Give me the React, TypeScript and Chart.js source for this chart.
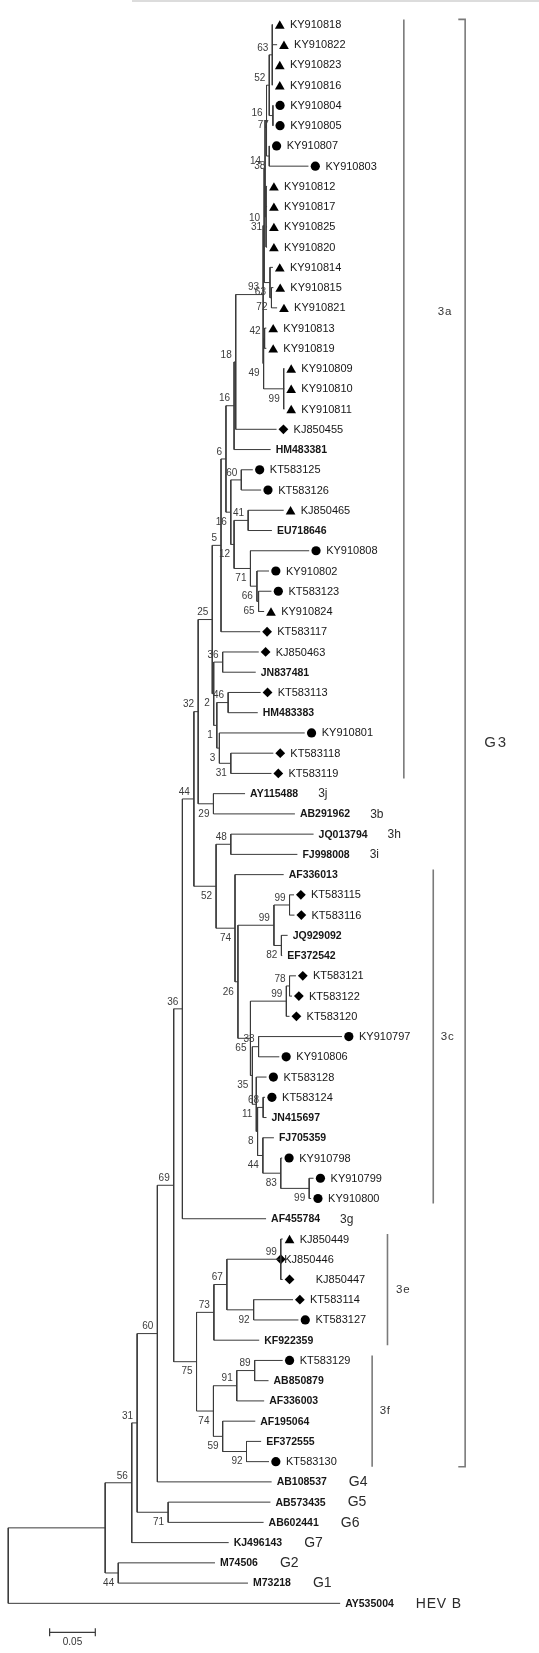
import React, { useEffect, useRef } from 'react';
import { Chart, registerables } from 'chart.js';

Chart.register(...registerables);

// ---------- data ----------
const leafNames = [
  'KY910818', 'KY910822', 'KY910823', 'KY910816', 'KY910804', 'KY910805', 'KY910807', 'KY910803',
  'KY910812', 'KY910817', 'KY910825', 'KY910820', 'KY910814', 'KY910815', 'KY910821', 'KY910813',
  'KY910819', 'KY910809', 'KY910810', 'KY910811', 'KJ850455', 'HM483381', 'KT583125', 'KT583126',
  'KJ850465', 'EU718646', 'KY910808', 'KY910802', 'KT583123', 'KY910824', 'KT583117', 'KJ850463',
  'JN837481', 'KT583113', 'HM483383', 'KY910801', 'KT583118', 'KT583119', 'AY115488', 'AB291962',
  'JQ013794', 'FJ998008', 'AF336013', 'KT583115', 'KT583116', 'JQ929092', 'EF372542', 'KT583121',
  'KT583122', 'KT583120', 'KY910797', 'KY910806', 'KT583128', 'KT583124', 'JN415697', 'FJ705359',
  'KY910798', 'KY910799', 'KY910800', 'AF455784', 'KJ850449', 'KJ850446', 'KJ850447', 'KT583114',
  'KT583127', 'KF922359', 'KT583129', 'AB850879', 'AF336003', 'AF195064', 'EF372555', 'KT583130',
  'AB108537', 'AB573435', 'AB602441', 'KJ496143', 'M74506', 'M73218', 'AY535004',
];

// T = triangle, C = circle, D = diamond, - = reference strain (bold, no marker)
const leafMarkers = (
  'TTTT' + 'CCCC' + 'TTTTTTTTTTTT' + 'D' + '-' + 'CC' + 'T' + '-' + 'CCC' + 'T' + 'DD' + '-' + 'D' + '-' +
  'C' + 'DD' + '-----' + 'DD' + '--' + 'DDD' + 'CCCC' + '--' + 'CCC' + '-' + 'T' + 'DDD' + 'C' + '-' + 'C' +
  '----' + 'C' + '-------'
).split('');

// distance from root (substitutions per site) of each tip
const leafDist = [
  0.2897, 0.2943, 0.2897, 0.2897, 0.2900, 0.2900, 0.2862, 0.3286,
  0.2833, 0.2833, 0.2833, 0.2833, 0.2897, 0.2902, 0.2943, 0.2825,
  0.2825, 0.3022, 0.3022, 0.3022, 0.2937, 0.2872, 0.2677, 0.2768,
  0.3015, 0.2886, 0.3294, 0.2854, 0.2881, 0.2801, 0.2758, 0.2742,
  0.2709, 0.2763, 0.2731, 0.3245, 0.2902, 0.2881, 0.2592, 0.3138,
  0.3342, 0.3165, 0.3015, 0.3128, 0.3133, 0.3058, 0.2999, 0.3149,
  0.3106, 0.3079, 0.3653, 0.2967, 0.2827, 0.2811, 0.2827, 0.2908,
  0.2999, 0.3342, 0.3315, 0.2822, 0.3004, 0.2983, 0.3004, 0.3117,
  0.3176, 0.2747, 0.3004, 0.2849, 0.2801, 0.2704, 0.2768, 0.2854,
  0.2883, 0.2870, 0.2795, 0.2413, 0.2263, 0.2624, 0.3633,
];

// internal nodes: id, children (leaf index or node id), distance from root, bootstrap
const nodeIds = [
  'a63', 'a77', 'a52', 'a38', 'a16', 'a31', 'a14', 'a72', 'a63b', 'a10', 'a42', 'a99', 'a49', 'a93',
  'b18', 'b16', 'b60', 'b41', 'b65', 'b66', 'b71', 'b12', 'b16b', 'b6', 'b5',
  'c36', 'c46', 'c31', 'c3', 'c1', 'c2', 'c25', 'c29', 'c32',
  'd48', 'd99b', 'd82', 'd99a', 'd78', 'd99c', 'd33', 'd68', 'd99d', 'd83', 'd44', 'd8', 'd11', 'd35',
  'd65', 'd26', 'd74', 'd52', 'd44b', 'd36',
  'e99', 'e92', 'e67', 'e73', 'e89', 'e91', 'e92b', 'e59', 'e74', 'e75', 'e69', 'e60',
  'f71', 'f31', 'f56', 'f44', 'fin', 'root',
];
const nodeKids: (number | string)[][] = [
  [0, 1, 2, 3], [4, 5], ['a63', 'a77'], [6, 7], ['a52', 'a38'], [8, 9, 10, 11], ['a16', 'a31'],
  [13, 14], [12, 'a72'], ['a14', 'a63b'], [15, 16], [17, 18, 19], ['a42', 'a99'], ['a10', 'a49'],
  ['a93', 20], ['b18', 21], [22, 23], [24, 25], [28, 29], [27, 'b65'], [26, 'b66'], ['b41', 'b71'],
  ['b60', 'b12'], ['b16', 'b16b'], ['b6', 30],
  [31, 32], [33, 34], [36, 37], [35, 'c31'], ['c46', 'c3'], ['c36', 'c1'], ['b5', 'c2'], [38, 39],
  ['c25', 'c29'],
  [40, 41], [43, 44], [45, 46], ['d99b', 'd82'], [47, 48], ['d78', 49], [50, 51], [53, 54], [57, 58],
  [56, 'd99d'], [55, 'd83'], ['d68', 'd44'], [52, 'd8'], ['d33', 'd11'], ['d99c', 'd35'],
  ['d99a', 'd65'], [42, 'd26'], ['d48', 'd74'], ['c32', 'd52'], ['d44b', 59],
  [60, 61, 62], [63, 64], ['e99', 'e92'], ['e67', 65], [66, 67], ['e89', 68], [70, 71], [69, 'e92b'],
  ['e91', 'e59'], ['e73', 'e74'], ['d36', 'e75'], ['e69', 72],
  [73, 74], ['e60', 'f71'], ['f31', 75], [76, 77], ['f56', 'f44'], ['fin', 78],
];
const nodeDist = [
  0.2890, 0.2897, 0.2857, 0.2857, 0.2827, 0.2822, 0.2811, 0.2881, 0.2865, 0.2801, 0.2806, 0.3015, 0.2795, 0.2790,
  0.2490, 0.2472, 0.2551, 0.2626, 0.2740, 0.2722, 0.2651, 0.2472, 0.2436, 0.2383, 0.2329,
  0.2347, 0.2407, 0.2436, 0.2311, 0.2283, 0.2249, 0.2233, 0.2246, 0.2079,
  0.2436, 0.3079, 0.2990, 0.2908, 0.3079, 0.3044, 0.2740, 0.2790, 0.3294, 0.2983, 0.2787, 0.2729, 0.2715, 0.2672,
  0.2651, 0.2514, 0.2482, 0.2275, 0.2032, 0.1906,
  0.2983, 0.2686, 0.2393, 0.2251, 0.2697, 0.2501, 0.2608, 0.2347, 0.2246, 0.2061, 0.1811, 0.1632,
  0.1750, 0.1411, 0.1352, 0.1204, 0.1061, 0,
];
const nodeBoot = [
  '63', '77', '52', '38', '16', '31', '14', '72', '63', '10', '42', '99', '49', '93',
  '18', '16', '60', '41', '65', '66', '71', '12', '16', '6', '5',
  '36', '46', '31', '3', '1', '2', '25', '29', '32',
  '48', '99', '82', '99', '78', '99', '33', '68', '99', '83', '44', '8', '11', '35',
  '65', '26', '74', '52', '44', '36',
  '99', '92', '67', '73', '89', '91', '92', '59', '74', '75', '69', '60',
  '71', '31', '56', '44', '', '',
];

// clade brackets
const cladeNames = ['3a', '3c', '3e', '3f', 'G3'];
const cladeFirstLeaf = [0, 42, 60, 66, 0];
const cladeLastLeaf = [37, 58, 65, 71, 71];

// single-strain genotype / subtype tags
const tagLeaves = [38, 39, 40, 41, 59, 72, 73, 74, 75, 76, 77, 78];
const tagLabels = ['3j', '3b', '3h', '3i', '3g', 'G4', 'G5', 'G6', 'G7', 'G2', 'G1', 'HEV B'];

const scaleBarValue = 0.05;

// ---------- layout ----------
const W = 539;
const H = 1653;
const PX_PER_UNIT = 933;
const ROOT_PX = 2.7;
const ROW0 = 19;
const ROW_H = 20.38;
const FONT = '"Liberation Sans", Arial, Helvetica, sans-serif';
const cladeBarX = [0.433, 0.4652, 0.4151, 0.3983, 0.5001];
const cladeLabelDx = [34, 7.5, 8.5, 7.5, 19];
const cladeLabelRow: (number | null)[] = [14.2, null, null, null, null];
const scaleBarStart = 0.0453;
const scaleBarRow = 79.43;

const px = (v: number) => v / PX_PER_UNIT;
const rowPx = (v: number) => v / ROW_H;

const nodeIndex = new Map(nodeIds.map((id, i) => [id, i]));
const yCache = new Map<string, number>();
function yOf(k: number | string): number {
  if (typeof k === 'number') return k;
  if (yCache.has(k)) return yCache.get(k)!;
  const ks = nodeKids[nodeIndex.get(k)!];
  const y = (yOf(ks[0]) + yOf(ks[ks.length - 1])) / 2;
  yCache.set(k, y);
  return y;
}
function distOf(k: number | string): number {
  return typeof k === 'number' ? leafDist[k] : nodeDist[nodeIndex.get(k)!];
}
const parentInfo = new Map<string, { first: boolean }>();
nodeKids.forEach((ks) => {
  ks.forEach((k, j) => {
    if (typeof k === 'string') parentInfo.set(k, { first: j === 0 });
  });
});

function buildTreeSegments() {
  const pts: { x: number; y: number | null }[] = [];
  nodeIds.forEach((id, i) => {
    const x = nodeDist[i];
    const ks = nodeKids[i];
    pts.push({ x, y: yOf(ks[0]) }, { x, y: yOf(ks[ks.length - 1]) }, { x, y: null });
    ks.forEach((k) => {
      const kd = distOf(k);
      if (kd > x) pts.push({ x, y: yOf(k) }, { x: kd, y: yOf(k) }, { x: kd, y: null });
    });
  });
  return pts;
}

function buildBracketSegments() {
  const pts: { x: number; y: number | null }[] = [];
  cladeNames.forEach((name, i) => {
    const x = cladeBarX[i];
    const top = cladeFirstLeaf[i] - 0.25;
    const bot = cladeLastLeaf[i] + 0.25;
    if (name.startsWith('G')) {
      pts.push({ x: x - px(7), y: top }, { x, y: top }, { x, y: bot }, { x: x - px(7), y: bot }, { x, y: null });
    } else {
      pts.push({ x, y: top }, { x, y: bot }, { x, y: null });
    }
  });
  return pts;
}

function buildScaleBar() {
  const x0 = scaleBarStart;
  const x1 = scaleBarStart + scaleBarValue;
  const t = rowPx(4);
  return [
    { x: x0, y: scaleBarRow - t }, { x: x0, y: scaleBarRow + t }, { x: x0, y: null },
    { x: x0, y: scaleBarRow }, { x: x1, y: scaleBarRow }, { x: x1, y: null },
    { x: x1, y: scaleBarRow - t }, { x: x1, y: scaleBarRow + t }, { x: x1, y: null },
  ];
}

// marker placement nudges (px) for two labels that are offset in the original figure
const markerNudge: Record<number, number> = { 61: -7 };
const textNudge: Record<number, number> = { 61: -13.5, 62: 16 };

function buildMarkers() {
  const data: { x: number; y: number }[] = [];
  const styles: string[] = [];
  const radii: number[] = [];
  leafMarkers.forEach((m, i) => {
    if (m === '-') return;
    const dx = px(7 + (markerNudge[i] || 0));
    if (m === 'T') {
      data.push({ x: leafDist[i] + dx, y: i + rowPx(1.4) });
      styles.push('triangle');
      radii.push(5.6);
    } else if (m === 'C') {
      data.push({ x: leafDist[i] + dx, y: i });
      styles.push('circle');
      radii.push(4.6);
    } else {
      data.push({ x: leafDist[i] + dx, y: i });
      styles.push('rectRot');
      radii.push(4.9);
    }
  });
  return { data, styles, radii };
}

const labelPlugin = {
  id: 'treeLabels',
  afterDatasetsDraw(chart: any) {
    const { ctx } = chart;
    const xs = chart.scales.x;
    const ys = chart.scales.y;
    ctx.save();
    ctx.textBaseline = 'middle';

    // leaf names and tags
    leafNames.forEach((name, i) => {
      const bold = leafMarkers[i] === '-';
      const tip = xs.getPixelForValue(leafDist[i]);
      const y = ys.getPixelForValue(i);
      ctx.font = bold ? `bold 10.5px ${FONT}` : `11px ${FONT}`;
      ctx.fillStyle = '#161616';
      ctx.textAlign = 'left';
      const tx = tip + (bold ? 5 : 17) + (textNudge[i] || 0);
      ctx.fillText(name, tx, y + 0.5);
      const w = ctx.measureText(name).width;
      const t = tagLeaves.indexOf(i);
      if (t >= 0) {
        const tag = tagLabels[t];
        const isG = tag.startsWith('G') || tag.startsWith('H');
        ctx.font = isG ? `14px ${FONT}` : `12px ${FONT}`;
        ctx.fillStyle = '#2a2a2a';
        (ctx as any).letterSpacing = tag === 'HEV B' ? '0.8px' : '0px';
        ctx.fillText(tag, tx + w + (isG ? 22 : 20), y + 0.5);
        (ctx as any).letterSpacing = '0px';
      }
    });

    // bootstrap values
    ctx.font = `10px ${FONT}`;
    ctx.fillStyle = '#3c3c3c';
    ctx.textAlign = 'right';
    nodeIds.forEach((id, i) => {
      const b = nodeBoot[i];
      if (!b) return;
      const info = parentInfo.get(id);
      if (!info) return;
      const x = xs.getPixelForValue(nodeDist[i]);
      const y = ys.getPixelForValue(yOf(id));
      ctx.fillText(b, x - 4, y + (info.first ? -7 : 10));
    });

    // clade labels
    ctx.textAlign = 'left';
    cladeNames.forEach((name, i) => {
      const x = xs.getPixelForValue(cladeBarX[i]) + cladeLabelDx[i];
      const row = cladeLabelRow[i] ?? (cladeFirstLeaf[i] + cladeLastLeaf[i]) / 2;
      const y = ys.getPixelForValue(row);
      const isG = name.startsWith('G');
      ctx.font = isG ? `15px ${FONT}` : `11.5px ${FONT}`;
      ctx.fillStyle = '#333';
      (ctx as any).letterSpacing = isG ? '2px' : '0.8px';
      ctx.fillText(name, x, y);
      (ctx as any).letterSpacing = '0px';
    });

    // scale bar label
    ctx.font = `10px ${FONT}`;
    ctx.fillStyle = '#333';
    ctx.textAlign = 'center';
    ctx.fillText(
      String(scaleBarValue),
      xs.getPixelForValue(scaleBarStart + scaleBarValue / 2),
      ys.getPixelForValue(scaleBarRow) + 9.5,
    );
    ctx.restore();
  },
};

export default function App() {
  const canvasRef = useRef<HTMLCanvasElement>(null);

  useEffect(() => {
    const canvas = canvasRef.current;
    if (!canvas) return;
    const markers = buildMarkers();
    const chart = new Chart(canvas, {
      type: 'scatter',
      data: {
        datasets: [
          {
            data: buildTreeSegments() as any,
            showLine: true,
            borderColor: '#3a3a3a',
            borderWidth: 1,
            pointRadius: 0,
            spanGaps: false,
          },
          {
            data: buildBracketSegments() as any,
            showLine: true,
            borderColor: '#7a7a7a',
            borderWidth: 1.6,
            pointRadius: 0,
            spanGaps: false,
          },
          {
            data: buildScaleBar() as any,
            showLine: true,
            borderColor: '#3a3a3a',
            borderWidth: 1.2,
            pointRadius: 0,
            spanGaps: false,
          },
          {
            data: markers.data,
            showLine: false,
            pointStyle: markers.styles as any,
            pointRadius: markers.radii,
            backgroundColor: '#000',
            borderColor: '#000',
            borderWidth: 0,
          },
        ],
      },
      options: {
        animation: false,
        responsive: false,
        maintainAspectRatio: false,
        devicePixelRatio: 1,
        layout: { padding: 0 },
        events: [],
        plugins: { legend: { display: false }, tooltip: { enabled: false } },
        scales: {
          x: {
            type: 'linear',
            display: false,
            min: -ROOT_PX / PX_PER_UNIT,
            max: (W - ROOT_PX) / PX_PER_UNIT,
          },
          y: {
            type: 'linear',
            display: false,
            reverse: true,
            min: -ROW0 / ROW_H,
            max: (H - ROW0) / ROW_H,
          },
        },
      },
      plugins: [labelPlugin],
    });
    return () => chart.destroy();
  }, []);

  return (
    <div style={{ position: 'absolute', left: 0, top: 0, width: W, height: H, background: '#fff', overflow: 'hidden' }}>
      <div style={{ position: 'absolute', left: 132, top: 0, width: W - 132, height: 2, background: '#dcdcdc' }} />
      <canvas ref={canvasRef} width={W} height={H} style={{ display: 'block', width: W, height: H }} />
    </div>
  );
}
